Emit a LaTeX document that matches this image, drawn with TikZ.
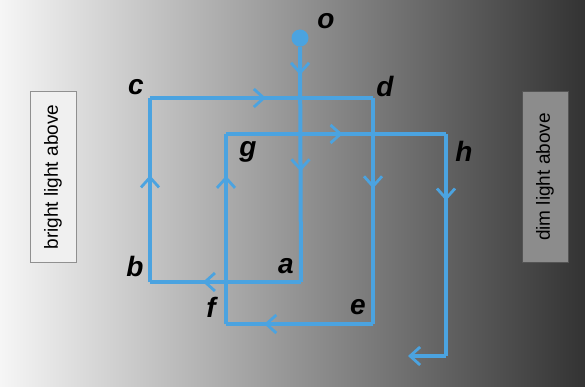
\documentclass[tikz,border=0pt]{standalone}
\usepackage{fontspec}
\setmainfont{Liberation Sans}
\usetikzlibrary{arrows.meta, decorations.markings}

\definecolor{rayblue}{HTML}{4BA3E0}
\definecolor{bgleft}{HTML}{F6F6F6}
\definecolor{bgmid}{HTML}{A4A4A4}
\definecolor{bgright}{HTML}{333333}

\begin{document}
\begin{tikzpicture}[
    x=1pt, y=-1pt,
    ray/.style={
        draw=rayblue,
        line width=4pt,
        line join=miter
    },
    flow/.style={
        postaction={decorate, decoration={markings,
            mark=at position #1 with {\arrow[rayblue, line width=2.8pt]{Straight Barb[length=10pt, width=18pt]}}}}
    },
    lbl/.style={
        font=\fontsize{28}{28}\selectfont\bfseries\itshape,
        inner sep=0pt
    },
    lightbox/.style={
        rectangle,
        rotate=90,
        draw=#1!60!black,
        fill=#1,
        line width=0.9pt,
        minimum width=171pt,
        minimum height=46pt,
        font=\fontsize{19}{19}\selectfont
    }
]

% Background
\shade [left color=bgleft, middle color=bgmid, right color=bgright] (0,0) rectangle (585,387);

% Boxes
\node [lightbox=white!94!black] (bright) at (53,177) {bright light above};
\node [lightbox=gray!90!white] (dim) at (545,177) {dim light above};

% Corners
\coordinate (a) at (301,282);
\coordinate (b) at (150,282);
\coordinate (c) at (150,98);
\coordinate (d) at (373,98);
\coordinate (e) at (373,324);
\coordinate (f) at (226,324);
\coordinate (g) at (226,134);
\coordinate (h) at (446,134);
\coordinate (k) at (446,356);
\coordinate (out) at (408,356);

% Labels
\node [lbl] (olbl) at (326,21) {o};
\node [lbl] (albl) at (286,266) {a};
\node [lbl] (blbl) at (135,266) {b};
\node [lbl] (clbl) at (136,87) {c};
\node [lbl] (dlbl) at (385,87) {d};
\node [lbl] (elbl) at (358,307) {e};
\node [lbl] (flbl) at (211,307) {f};
\node [lbl] (glbl) at (248,152) {g};
\node [lbl] (hlbl) at (464,151) {h};

% Rays
\node [circle, fill=rayblue, inner sep=0pt, minimum size=17pt] (o) at (300,38) {};
\path [ray, flow=0.12, flow=0.53] (o.south) -- (a);
\path [ray, flow=0.65] (a) -- (b);
\path [ray, flow=0.58] (b) -- (c);
\path [ray, flow=0.52] (c) -- (d);
\path [ray, flow=0.4] (d) -- (e);
\path [ray, flow=0.74] (e) -- (f);
\path [ray, flow=0.78] (f) -- (g);
\path [ray, flow=0.53] (g) -- (h);
\path [ray, flow=0.3] (h) -- (k);
\path [ray, -{Straight Barb[length=10pt, width=18pt, line width=2.8pt]}] (k) -- (out);

\end{tikzpicture}
\end{document}
